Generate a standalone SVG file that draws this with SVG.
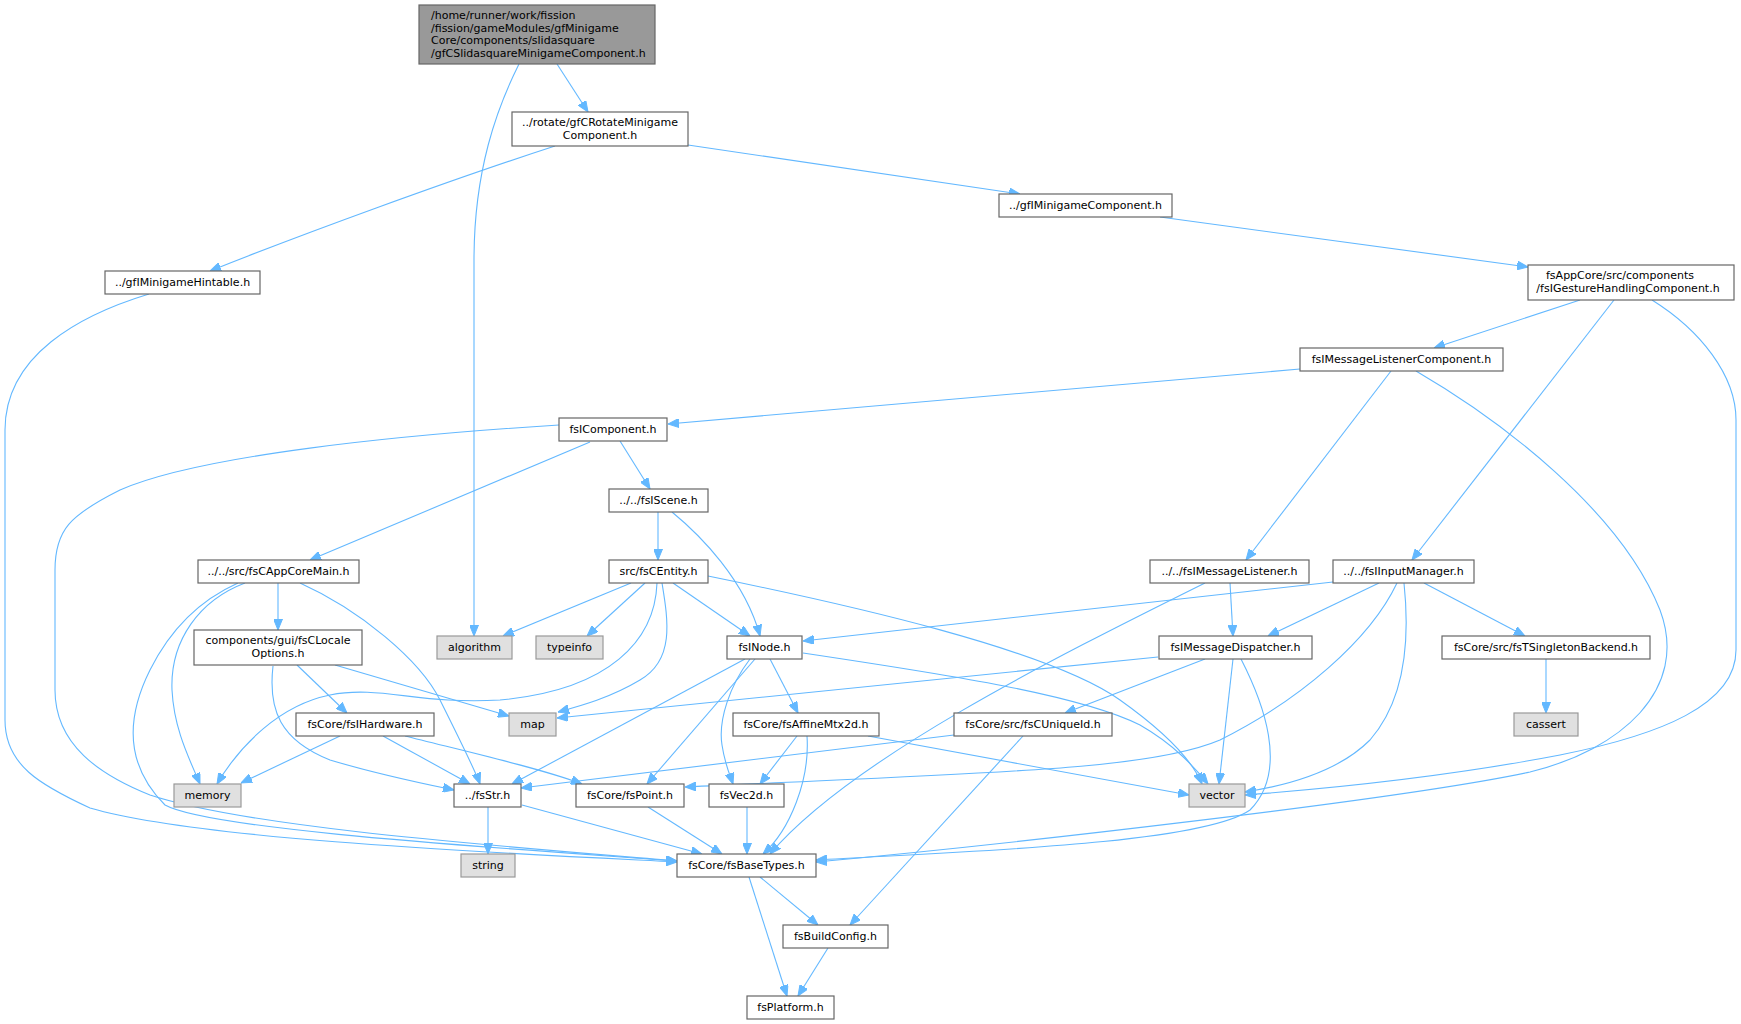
<svg xmlns="http://www.w3.org/2000/svg" width="1741" height="1024" viewBox="0 0 1741 1024">
<style>
.n rect{fill:#ffffff;stroke:#666666;stroke-width:1.2}
.g rect{fill:#e0e0e0;stroke:#999999;stroke-width:1.2}
.m rect{fill:#999999;stroke:#666666;stroke-width:1.2}
text{font-family:"DejaVu Sans","Liberation Sans",sans-serif;font-size:11px;fill:#000000;text-anchor:middle}
.e path{fill:none;stroke:#63b8ff;stroke-width:1.1;marker-end:url(#a)}
</style>
<defs>
<marker id="a" markerWidth="11" markerHeight="9" refX="11" refY="4.5" orient="auto" markerUnits="userSpaceOnUse">
<path d="M0,0 L11,4.5 L0,9 z" fill="#63b8ff" stroke="#63b8ff" stroke-width="1"/>
</marker>
</defs>
<rect width="1741" height="1024" fill="#ffffff"/>
<g class="e" id="edges">
<path d="M519,64 C497,108 474,170 474,260 L474,636"/>
<path d="M557,64 L588,112"/>
<path d="M555,146 C450,180 300,235 210,271"/>
<path d="M688,145 L1020,194"/>
<path d="M149,294 C80,315 5,355 5,430 L5,720 C5,765 40,785 90,808 C200,840 500,853 677,862"/>
<path d="M1160,217 L1528,267"/>
<path d="M1580,300 L1434,348"/>
<path d="M1614,300 L1412,560"/>
<path d="M1652,300 C1700,330 1736,375 1736,420 L1736,650 C1736,705 1660,735 1560,755 C1440,778 1310,790 1245,795"/>
<path d="M1300,369 L668,424"/>
<path d="M1391,371 L1246,560"/>
<path d="M1416,371 C1500,420 1620,510 1660,610 C1690,690 1620,750 1530,772 C1400,800 1000,845 816,862"/>
<path d="M590,442 L310,560"/>
<path d="M620,441 L650,489"/>
<path d="M559,425 C400,435 200,455 120,490 C70,515 55,530 55,570 L55,690 C55,745 100,775 150,795 C250,828 500,846 677,861"/>
<path d="M658,512 L658,560"/>
<path d="M672,512 C700,535 745,580 760,636"/>
<path d="M278,583 L278,630"/>
<path d="M245,583 C200,600 170,640 172,690 C174,730 190,760 200,784"/>
<path d="M300,583 C360,610 420,660 440,700 C460,740 475,770 480,784"/>
<path d="M238,583 C200,600 170,630 150,670 C130,710 120,760 165,805 C210,830 500,848 677,861"/>
<path d="M631,583 L503,636"/>
<path d="M645,583 L587,636"/>
<path d="M673,583 L750,636"/>
<path d="M662,583 C668,620 675,660 640,680 C610,698 580,706 558,712"/>
<path d="M657,583 C655,640 610,690 500,700 C420,705 380,685 330,695 C280,705 240,745 217,784"/>
<path d="M708,576 C850,605 1050,650 1120,700 C1165,732 1192,760 1202,784"/>
<path d="M297,665 L347,713"/>
<path d="M335,665 L509,716"/>
<path d="M273,666 C268,710 280,740 330,760 C380,775 420,783 454,790"/>
<path d="M340,736 L241,783"/>
<path d="M383,736 L470,784"/>
<path d="M405,736 C460,750 540,768 582,784"/>
<path d="M770,659 L798,713"/>
<path d="M745,659 L512,784"/>
<path d="M755,659 L647,784"/>
<path d="M750,659 C730,685 718,720 722,745 C725,765 730,775 733,784"/>
<path d="M803,653 C950,675 1080,695 1140,725 C1175,745 1195,768 1208,784"/>
<path d="M797,736 L760,784"/>
<path d="M807,736 C810,780 790,830 763,854"/>
<path d="M868,736 L1189,795"/>
<path d="M1230,583 L1233,636"/>
<path d="M1205,583 C1050,660 850,760 770,854"/>
<path d="M1333,582 L803,641"/>
<path d="M1379,583 L1268,636"/>
<path d="M1424,583 L1525,636"/>
<path d="M1397,583 C1370,640 1300,700 1220,740 C1150,770 1000,772 685,787"/>
<path d="M1404,583 C1410,640 1405,700 1370,740 C1340,770 1290,785 1245,792"/>
<path d="M1158,657 L557,718"/>
<path d="M1205,659 L1065,713"/>
<path d="M1233,659 L1219,784"/>
<path d="M1241,659 C1262,700 1290,770 1250,810 C1200,845 950,852 816,860"/>
<path d="M1546,659 L1546,713"/>
<path d="M954,735 L521,788"/>
<path d="M1023,736 L850,925"/>
<path d="M488,807 L488,854"/>
<path d="M522,805 L702,854"/>
<path d="M648,807 L722,854"/>
<path d="M747,807 L747,854"/>
<path d="M760,877 L818,925"/>
<path d="M749,877 L787,996"/>
<path d="M828,948 L798,996"/>
</g>
<g class="m" id="n-main"><rect x="419" y="5" width="236" height="59"/>
<text x="431" y="19" style="text-anchor:start">/home/runner/work/fission</text>
<text x="431" y="31.5" style="text-anchor:start">/fission/gameModules/gfMinigame</text>
<text x="431" y="44" style="text-anchor:start">Core/components/slidasquare</text>
<text x="431" y="56.5" style="text-anchor:start">/gfCSlidasquareMinigameComponent.h</text></g>
<g class="n" id="n-rotate"><rect x="512" y="112" width="176" height="34"/><text x="600" y="126">../rotate/gfCRotateMinigame</text><text x="600" y="138.5">Component.h</text></g>
<g class="n" id="n-hintable"><rect x="105" y="271" width="155" height="23"/><text x="182.5" y="286">../gfIMinigameHintable.h</text></g>
<g class="n" id="n-mgcomp"><rect x="999" y="194" width="173" height="23"/><text x="1085.5" y="209">../gfIMinigameComponent.h</text></g>
<g class="n" id="n-gesture"><rect x="1528" y="265" width="206" height="35"/><text x="1620" y="279">fsAppCore/src/components</text><text x="1628" y="291.5">/fsIGestureHandlingComponent.h</text></g>
<g class="n" id="n-mlcomp"><rect x="1300" y="348" width="203" height="23"/><text x="1401.5" y="363">fsIMessageListenerComponent.h</text></g>
<g class="n" id="n-icomp"><rect x="559" y="418" width="108" height="23"/><text x="613" y="433">fsIComponent.h</text></g>
<g class="n" id="n-iscene"><rect x="609" y="489" width="99" height="23"/><text x="658.5" y="504">../../fsIScene.h</text></g>
<g class="n" id="n-appcore"><rect x="198" y="560" width="161" height="23"/><text x="278.5" y="575">../../src/fsCAppCoreMain.h</text></g>
<g class="n" id="n-entity"><rect x="609" y="560" width="99" height="23"/><text x="658.5" y="575">src/fsCEntity.h</text></g>
<g class="n" id="n-mlistener"><rect x="1150" y="560" width="159" height="23"/><text x="1229.5" y="575">../../fsIMessageListener.h</text></g>
<g class="n" id="n-input"><rect x="1333" y="560" width="141" height="23"/><text x="1403.5" y="575">../../fsIInputManager.h</text></g>
<g class="n" id="n-locale"><rect x="194" y="630" width="168" height="35"/><text x="278" y="644">components/gui/fsCLocale</text><text x="278" y="656.5">Options.h</text></g>
<g class="g" id="n-algorithm"><rect x="437" y="636" width="75" height="23"/><text x="474.5" y="651">algorithm</text></g>
<g class="g" id="n-typeinfo"><rect x="536" y="636" width="67" height="23"/><text x="569.5" y="651">typeinfo</text></g>
<g class="n" id="n-inode"><rect x="727" y="636" width="75" height="23"/><text x="764.5" y="651">fsINode.h</text></g>
<g class="n" id="n-dispatcher"><rect x="1159" y="636" width="153" height="23"/><text x="1235.5" y="651">fsIMessageDispatcher.h</text></g>
<g class="n" id="n-singleton"><rect x="1442" y="636" width="208" height="23"/><text x="1546" y="651">fsCore/src/fsTSingletonBackend.h</text></g>
<g class="n" id="n-hardware"><rect x="296" y="713" width="138" height="23"/><text x="365" y="728">fsCore/fsIHardware.h</text></g>
<g class="g" id="n-map"><rect x="509" y="713" width="47" height="23"/><text x="532.5" y="728">map</text></g>
<g class="n" id="n-affine"><rect x="733" y="713" width="146" height="23"/><text x="806" y="728">fsCore/fsAffineMtx2d.h</text></g>
<g class="n" id="n-uniqueid"><rect x="954" y="713" width="158" height="23"/><text x="1033" y="728">fsCore/src/fsCUniqueId.h</text></g>
<g class="g" id="n-cassert"><rect x="1514" y="713" width="64" height="23"/><text x="1546" y="728">cassert</text></g>
<g class="g" id="n-memory"><rect x="174" y="784" width="67" height="23"/><text x="207.5" y="799">memory</text></g>
<g class="n" id="n-str"><rect x="454" y="784" width="67" height="23"/><text x="487.5" y="799">../fsStr.h</text></g>
<g class="n" id="n-point"><rect x="576" y="784" width="108" height="23"/><text x="630" y="799">fsCore/fsPoint.h</text></g>
<g class="n" id="n-vec2d"><rect x="709" y="784" width="75" height="23"/><text x="746.5" y="799">fsVec2d.h</text></g>
<g class="g" id="n-vector"><rect x="1189" y="784" width="56" height="23"/><text x="1217" y="799">vector</text></g>
<g class="g" id="n-string"><rect x="461" y="854" width="54" height="23"/><text x="488" y="869">string</text></g>
<g class="n" id="n-basetypes"><rect x="677" y="854" width="139" height="23"/><text x="746.5" y="869">fsCore/fsBaseTypes.h</text></g>
<g class="n" id="n-buildconfig"><rect x="783" y="925" width="105" height="23"/><text x="835.5" y="940">fsBuildConfig.h</text></g>
<g class="n" id="n-platform"><rect x="747" y="996" width="87" height="23"/><text x="790.5" y="1011">fsPlatform.h</text></g>
</svg>
